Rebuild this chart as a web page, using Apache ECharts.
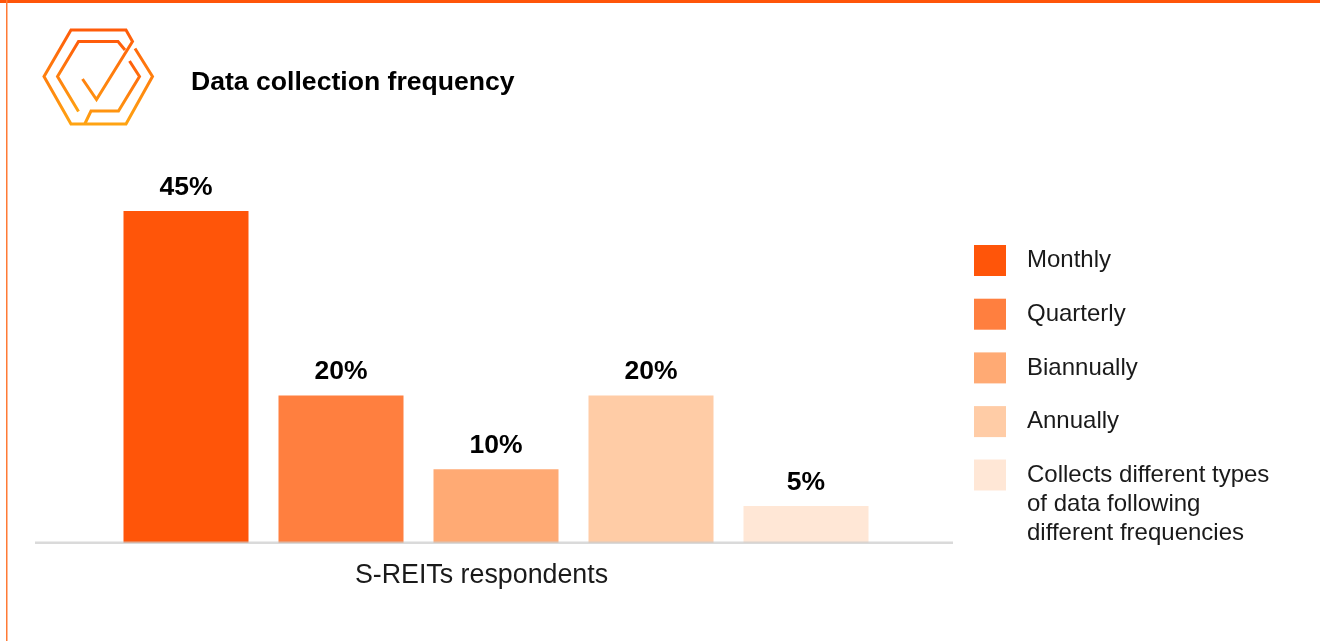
<!DOCTYPE html>
<html>
<head>
<meta charset="utf-8">
<script src="https://cdn.jsdelivr.net/npm/echarts@6/dist/echarts.min.js"></script>
<style>html,body{margin:0;padding:0;background:#fff}#c{width:1320px;height:641px}</style>
</head>
<body>
<div id="c"></div>
<script>
const categories = ['S-REITs respondents'];
const seriesNames = ['Monthly', 'Quarterly', 'Biannually', 'Annually', 'Collects different types\nof data following\ndifferent frequencies'];
const monthly = [45];
const quarterly = [20];
const biannually = [10];
const annually = [20];
const mixed = [5];
const seriesValues = [monthly, quarterly, biannually, annually, mixed];
const colors = ['#FF5509', '#FF7F3F', '#FFAA74', '#FFCCA6', '#FFE7D6'];
const FONT = '"Liberation Sans", Arial, sans-serif';

const logoGradient = {
  type: 'linear', x: 0, y: 0, x2: 0, y2: 1,
  colorStops: [{offset: 0, color: '#FF5A0A'}, {offset: 1, color: '#FFA512'}]
};
const logoLines = [
  [[135,48.5],[152.5,76.5],[126,124],[71,124],[44,76.5],[71,30],[126,30],[132.5,41.5],[96.5,99.5],[82.5,79]],
  [[125,50],[118,41.5],[78.5,41.5],[57.5,76.5],[78.5,111.5]],
  [[129.5,61],[139.5,76.5],[118.5,111],[91,111],[85,123.5]]
];

const chart = echarts.init(document.getElementById('c'), null, {renderer: 'canvas'});
chart.setOption({
  animation: false,
  backgroundColor: '#fff',
  textStyle: {fontFamily: FONT},
  title: {
    text: 'Data collection frequency',
    left: 191, top: 69, padding: 0,
    textStyle: {fontFamily: FONT, fontSize: 26.6, fontWeight: 'bold', color: '#000'}
  },
  grid: {left: 35, width: 922, top: 174, height: 369},
  xAxis: {
    type: 'category',
    data: categories,
    axisLine: {show: false},
    axisTick: {show: false},
    axisLabel: {fontFamily: FONT, fontSize: 26.8, color: '#1a1a1a', margin: 19, padding: [0, 29, 0, 0]}
  },
  yAxis: {type: 'value', min: 0, max: 50, show: false},
  legend: [
    {
      orient: 'vertical', left: 974, top: 245, padding: 0,
      itemWidth: 32, itemHeight: 31, itemGap: 22.7,
      icon: 'rect', selectedMode: false,
      data: seriesNames.slice(0, 4),
      textStyle: {fontFamily: FONT, fontSize: 24, color: '#1a1a1a', padding: [2, 0, 0, 16]}
    },
    {
      orient: 'vertical', left: 974, top: 402.5, padding: 0,
      itemWidth: 32, itemHeight: 31,
      icon: 'rect', selectedMode: false,
      data: seriesNames.slice(4),
      formatter: name => '\n\n' + name,
      textStyle: {fontFamily: FONT, fontSize: 24, lineHeight: 29, color: '#1a1a1a', padding: [0, 0, 0, 16]}
    }
  ],
  series: seriesNames.map((name, i) => ({
    name,
    type: 'bar',
    data: seriesValues[i],
    barWidth: 125,
    barGap: '24%',
    itemStyle: {color: colors[i]},
    label: {
      show: true, position: 'top', distance: 10,
      formatter: '{c}%',
      fontFamily: FONT, fontSize: 26.5, fontWeight: 'bold', color: '#000'
    }
  })),
  graphic: [
    {type: 'rect', shape: {x: 0, y: 0, width: 1320, height: 3}, style: {fill: '#FF5509'}, z: 20, silent: true},
    {type: 'rect', shape: {x: 6, y: 0, width: 1.5, height: 641}, style: {fill: '#FF7A35'}, z: 20, silent: true},
    {type: 'rect', shape: {x: 35, y: 541.5, width: 918, height: 2.5}, style: {fill: 'rgba(205,205,205,0.75)'}, z: 20, silent: true}
  ].concat(logoLines.map(points => ({
    type: 'polyline',
    shape: {points},
    style: {stroke: logoGradient, lineWidth: 3, fill: null, lineJoin: 'miter'},
    z: 20, silent: true
  })))
});
</script>
</body>
</html>
